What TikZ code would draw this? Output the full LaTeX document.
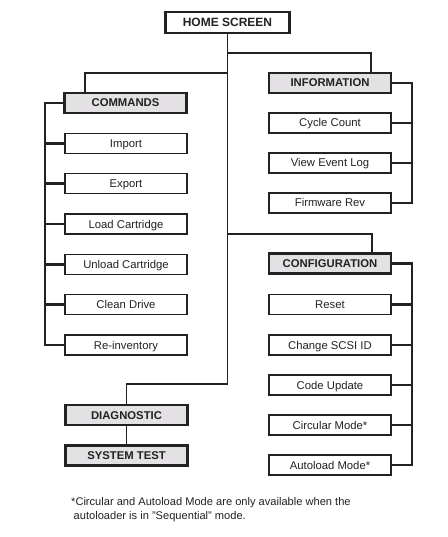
\documentclass[tikz,border=0pt]{standalone}
\usepackage{fontspec}
\setmainfont{Liberation Sans}
\usetikzlibrary{backgrounds}
\definecolor{ink}{HTML}{222222}
\definecolor{hdr}{HTML}{E3E1E4}
\begin{document}
\begin{tikzpicture}[x=1pt,y=-1pt,
  leaf/.style={draw=ink, line width=1.4pt, fill=white, minimum width=122pt, minimum height=20pt, inner sep=0pt, text height=8pt, text depth=0pt, text=ink, font=\fontsize{11.3}{13}\selectfont},
  head/.style={leaf, line width=2.6pt, fill=hdr, font=\fontsize{11.3}{13}\selectfont\bfseries},
  thin/.style={line width=1.3pt, draw=ink},
  bus/.style={line width=2.6pt, draw=ink}]
\useasboundingbox (0,0) rectangle (447,537);

% home
\node[head, fill=white, minimum width=124pt, minimum height=21pt, text height=8.6pt, font=\fontsize{12}{14}\selectfont\bfseries] (home) at (227.5,22.5) {HOME SCREEN};

% commands
\node[head] (commands) at (125.5,103) {COMMANDS};
\node[leaf] (import) at (126,143.5) {Import};
\node[leaf] (export) at (126,183.8) {Export};
\node[leaf] (load) at (126,224.1) {Load Cartridge};
\node[leaf] (unload) at (126,264.4) {Unload Cartridge};
\node[leaf] (clean) at (126,304.7) {Clean Drive};
\node[leaf] (reinv) at (126,345) {Re-inventory};

% information
\node[head] (info) at (330,83) {INFORMATION};
\node[leaf] (cycle) at (330,123) {Cycle Count};
\node[leaf] (event) at (330,163) {View Event Log};
\node[leaf] (fw) at (330,203) {Firmware Rev};

% configuration
\node[head] (config) at (330,263.5) {CONFIGURATION};
\node[leaf] (reset) at (330,304.5) {Reset};
\node[leaf] (scsi) at (330,345) {Change SCSI ID};
\node[leaf] (code) at (330,385) {Code Update};
\node[leaf] (circ) at (330,425) {Circular Mode*};
\node[leaf] (auto) at (330,465) {Autoload Mode*};

% diagnostic
\node[head] (diag) at (126.5,415) {DIAGNOSTIC};
\node[head] (sys) at (126.5,455.5) {SYSTEM TEST};

\begin{scope}[on background layer]
\fill[white] (0,0) rectangle (447,537);
% trunk connectors
\coordinate (j) at (227.5,384);
\coordinate (c1) at (85,73);
\coordinate (i1) at (371,53);
\coordinate (g1) at (372,234);
\draw[thin] (home.south) -- (j) -| (diag.north);
\draw[thin] (home.south |- c1) -- (c1) -- (c1 |- commands.north);
\draw[thin] (home.south |- i1) -- (i1) -- (i1 |- info.north);
\draw[thin] (home.south |- g1) -- (g1) -- (g1 |- config.north);
\draw[thin] (diag.south) -- (sys.north);

% buses
\coordinate (cb) at (45,0);
\coordinate (ib) at (412,0);
\draw[bus] (commands.center) -| (cb |- reinv.west) -- (reinv.center);
\foreach \n in {import,export,load,unload,clean} \draw[bus] (\n.center) -- (cb |- \n.west);
\draw[bus] (info.center) -| (ib |- fw.east) -- (fw.center);
\foreach \n in {cycle,event} \draw[bus] (\n.center) -- (ib |- \n.east);
\draw[bus] (config.center) -| (ib |- auto.east) -- (auto.center);
\foreach \n in {reset,scsi,code,circ} \draw[bus] (\n.center) -- (ib |- \n.east);
\end{scope}

% footnote
\node[anchor=north west, align=left, inner sep=0pt, text=ink, font=\fontsize{11.1}{14.5}\selectfont] (note) at (71,497) {*Circular and Autoload Mode are only available when the\\\hspace{2.5pt}autoloader is in "Sequential" mode.};
\end{tikzpicture}
\end{document}
